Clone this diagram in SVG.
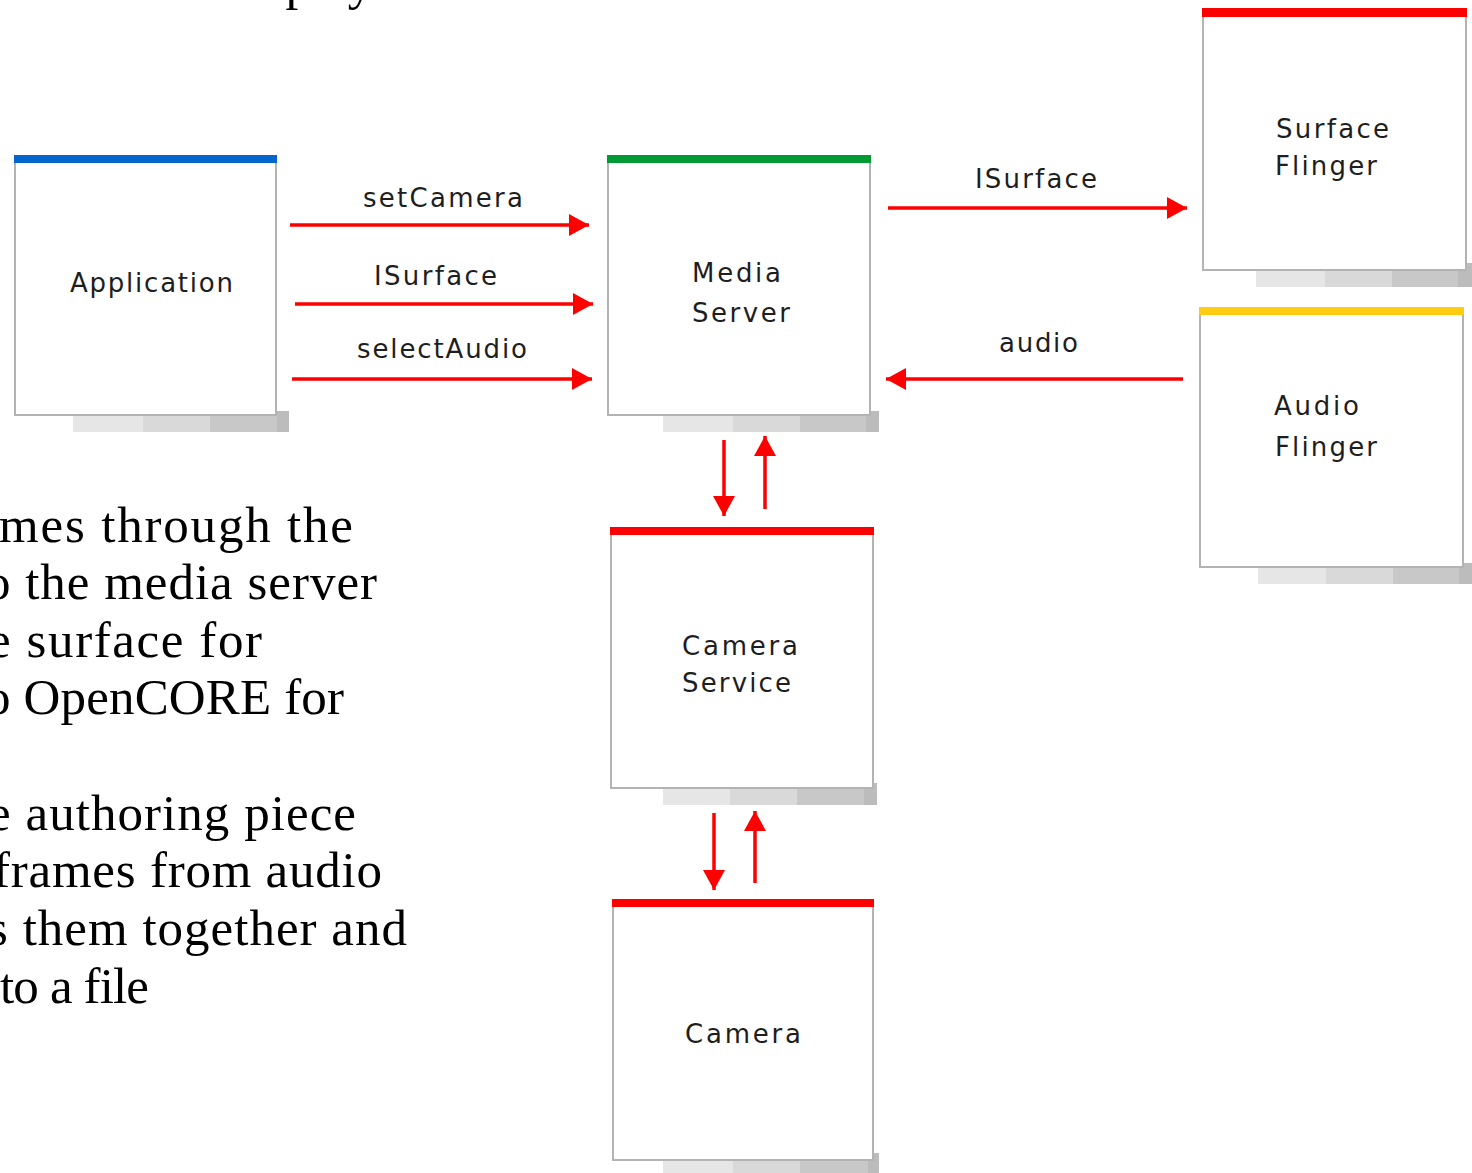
<svg xmlns="http://www.w3.org/2000/svg" width="1472" height="1173" viewBox="0 0 1472 1173">
<style>
.body{font-family:"Liberation Serif","Times New Roman",serif;font-size:51px;fill:#000}
.lbl{font-family:"DejaVu Sans","Liberation Sans",Arial,sans-serif;font-size:26px;fill:#1e1e1e}
.box{fill:#fff;stroke:#b3b3b3;stroke-width:2}
.s1{fill:#e6e6e6}.s2{fill:#d9d9d9}.s3{fill:#c8c8c8}.s4{fill:#bcbcbc}
.conn{stroke:#ff0000;stroke-width:3.5;fill:none}
</style>
<defs>
<marker id="ah" markerUnits="userSpaceOnUse" markerWidth="20" markerHeight="22" refX="20" refY="11" orient="auto">
<path d="M0,0 L20,11 L0,22 Z" fill="#ff0000"/>
</marker>
</defs>
<rect width="1472" height="1173" fill="#fff"/>

<g id="bodytext">
<text class="body" x="226" y="-1">display</text>
<text class="body" x="-1" y="542" textLength="354">mes through the</text>
<text class="body" x="-15" y="599" textLength="392">o the media server</text>
<text class="body" x="-12" y="657" textLength="274">e surface for</text>
<text class="body" x="-15" y="714" textLength="359">o OpenCORE for</text>
<text class="body" x="-12" y="830" textLength="368">e authoring piece</text>
<text class="body" x="-7" y="887" textLength="389">frames from audio</text>
<text class="body" x="-12" y="945" textLength="419">s them together and</text>
<text class="body" x="0" y="1003" textLength="149">to a file</text>
</g>

<g id="application">
<rect class="s1" x="73" y="411" width="70" height="21"/><rect class="s2" x="143" y="411" width="67" height="21"/><rect class="s3" x="210" y="411" width="67" height="21"/><rect class="s4" x="277" y="411" width="12" height="21"/>
<rect class="box" x="15" y="158" width="261" height="257"/>
<rect x="14" y="155" width="263" height="8" fill="#0066cc"/>
<text class="lbl" x="70" y="292" textLength="163">Application</text>
</g>

<g id="mediaserver">
<rect class="s1" x="663" y="411" width="70" height="21"/><rect class="s2" x="733" y="411" width="67" height="21"/><rect class="s3" x="800" y="411" width="66" height="21"/><rect class="s4" x="866" y="411" width="13" height="21"/>
<rect class="box" x="608" y="158" width="262" height="257"/>
<rect x="607" y="155" width="264" height="8" fill="#009933"/>
<text class="lbl" x="692" y="282" textLength="89">Media</text>
<text class="lbl" x="692" y="322" textLength="98">Server</text>
</g>

<g id="surfaceflinger">
<rect class="s1" x="1256" y="263" width="69" height="24"/><rect class="s2" x="1325" y="263" width="67" height="24"/><rect class="s3" x="1392" y="263" width="66" height="24"/><rect class="s4" x="1458" y="263" width="14" height="24"/>
<rect class="box" x="1203" y="12" width="263" height="258"/>
<rect x="1202" y="8" width="265" height="9" fill="#ff0000"/>
<text class="lbl" x="1276" y="138" textLength="113">Surface</text>
<text class="lbl" x="1275" y="175" textLength="102">Flinger</text>
</g>

<g id="audioflinger">
<rect class="s1" x="1258" y="563" width="68" height="21"/><rect class="s2" x="1326" y="563" width="67" height="21"/><rect class="s3" x="1393" y="563" width="66" height="21"/><rect class="s4" x="1459" y="563" width="13" height="21"/>
<rect class="box" x="1200" y="310" width="263" height="257"/>
<rect x="1199" y="307" width="265" height="8" fill="#ffcc11"/>
<text class="lbl" x="1274" y="415" textLength="85">Audio</text>
<text class="lbl" x="1275" y="456" textLength="102">Flinger</text>
</g>

<g id="cameraservice">
<rect class="s1" x="663" y="783" width="67" height="22"/><rect class="s2" x="730" y="783" width="67" height="22"/><rect class="s3" x="797" y="783" width="67" height="22"/><rect class="s4" x="864" y="783" width="13" height="22"/>
<rect class="box" x="611" y="531" width="262" height="257"/>
<rect x="610" y="527" width="264" height="8" fill="#ff0000"/>
<text class="lbl" x="682" y="655" textLength="116">Camera</text>
<text class="lbl" x="682" y="692" textLength="109">Service</text>
</g>

<g id="camera">
<rect class="s1" x="663" y="1153" width="70" height="20"/><rect class="s2" x="733" y="1153" width="67" height="20"/><rect class="s3" x="800" y="1153" width="68" height="20"/><rect class="s4" x="868" y="1153" width="11" height="20"/>
<rect class="box" x="613" y="903" width="260" height="257"/>
<rect x="612" y="899" width="262" height="8" fill="#ff0000"/>
<text class="lbl" x="685" y="1043" textLength="116">Camera</text>
</g>

<g id="connectors">
<line class="conn" x1="290" y1="225" x2="589" y2="225" marker-end="url(#ah)"/>
<line class="conn" x1="295" y1="304" x2="593" y2="304" marker-end="url(#ah)"/>
<line class="conn" x1="292" y1="379" x2="592" y2="379" marker-end="url(#ah)"/>
<line class="conn" x1="888" y1="208" x2="1187" y2="208" marker-end="url(#ah)"/>
<line class="conn" x1="1183" y1="379" x2="886" y2="379" marker-end="url(#ah)"/>
<line class="conn" x1="724" y1="440" x2="724" y2="516" marker-end="url(#ah)"/>
<line class="conn" x1="765" y1="509" x2="765" y2="436" marker-end="url(#ah)"/>
<line class="conn" x1="714" y1="813" x2="714" y2="890" marker-end="url(#ah)"/>
<line class="conn" x1="755" y1="883" x2="755" y2="811" marker-end="url(#ah)"/>
<text class="lbl" x="363" y="207" textLength="160">setCamera</text>
<text class="lbl" x="374" y="285" textLength="123">ISurface</text>
<text class="lbl" x="357" y="358" textLength="170">selectAudio</text>
<text class="lbl" x="975" y="188" textLength="122">ISurface</text>
<text class="lbl" x="999" y="352" textLength="79">audio</text>
</g>
</svg>
